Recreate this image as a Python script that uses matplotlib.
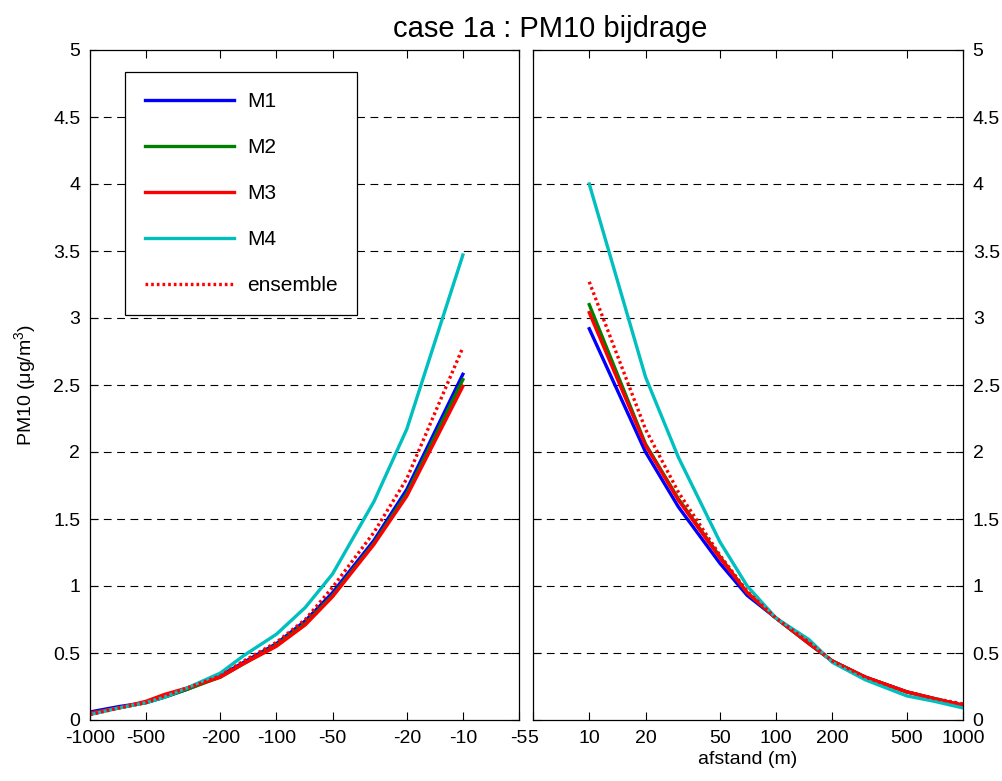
import matplotlib
matplotlib.use("Agg")
import matplotlib.pyplot as plt
from matplotlib.ticker import FixedLocator, NullLocator

plt.rcParams['font.family'] = ['Liberation Sans', 'DejaVu Sans']
plt.rcParams['mathtext.fontset'] = 'custom'
plt.rcParams['mathtext.rm'] = 'Liberation Sans'

# left side: upwind distances (m)
x_left = [-1000, -700, -500, -400, -300, -200, -150, -100, -70, -50, -30, -20, -10]
m1_left = [0.06, 0.10, 0.13, 0.17, 0.23, 0.33, 0.43, 0.57, 0.74, 0.95, 1.34, 1.72, 2.58]
m2_left = [0.05, 0.09, 0.13, 0.17, 0.23, 0.32, 0.42, 0.56, 0.72, 0.93, 1.32, 1.69, 2.54]
m3_left = [0.05, 0.09, 0.14, 0.19, 0.24, 0.32, 0.42, 0.55, 0.71, 0.92, 1.31, 1.67, 2.49]
m4_left = [0.04, 0.09, 0.13, 0.17, 0.24, 0.35, 0.48, 0.64, 0.84, 1.09, 1.63, 2.17, 3.47]
ens_left = [0.04, 0.09, 0.13, 0.18, 0.24, 0.33, 0.44, 0.58, 0.75, 0.99, 1.40, 1.80, 2.78]

# right side: downwind distances (m)
x_right = [10, 20, 30, 50, 70, 100, 150, 200, 300, 500, 700, 1000]
m1_right = [2.92, 2.00, 1.59, 1.17, 0.93, 0.76, 0.57, 0.44, 0.32, 0.21, 0.16, 0.11]
m2_right = [3.10, 2.06, 1.65, 1.22, 0.95, 0.76, 0.57, 0.44, 0.32, 0.21, 0.16, 0.11]
m3_right = [3.04, 2.05, 1.64, 1.21, 0.95, 0.76, 0.57, 0.44, 0.32, 0.21, 0.16, 0.11]
m4_right = [4.00, 2.56, 1.96, 1.33, 1.00, 0.76, 0.60, 0.43, 0.30, 0.18, 0.14, 0.09]
ens_right = [3.27, 2.17, 1.70, 1.23, 0.96, 0.76, 0.58, 0.44, 0.32, 0.21, 0.16, 0.12]

left_ticks = [-1000, -500, -200, -100, -50, -20, -10, -5]
right_ticks = [5, 10, 20, 50, 100, 200, 500, 1000]
y_ticks = [0, 0.5, 1, 1.5, 2, 2.5, 3, 3.5, 4, 4.5, 5]

labels = ['M1', 'M2', 'M3', 'M4', 'ensemble']
colors = ['#0000ff', '#008000', '#ff0000', '#00bfbf', '#ff0000']

W, H = 1003, 781
fig = plt.figure(figsize=(W / 100, H / 100), dpi=100)
ax1 = fig.add_axes([90 / W, 61 / H, 429 / W, 670 / H])
ax2 = fig.add_axes([533 / W, 61 / H, 430 / W, 670 / H])

left_series = [m1_left, m2_left, m3_left, m4_left, ens_left]
right_series = [m1_right, m2_right, m3_right, m4_right, ens_right]

for i in range(5):
    ls = (0, (0.8, 0.9)) if labels[i] == 'ensemble' else '-'
    ax1.plot(x_left, left_series[i], color=colors[i], lw=2.4, ls=ls, label=labels[i])
    ax2.plot(x_right, right_series[i], color=colors[i], lw=2.4, ls=ls)

ax1.set_xscale('symlog', linthresh=1)
ax1.set_xlim(-1000, -5)
ax1.xaxis.set_major_locator(FixedLocator(left_ticks))
ax1.set_xticklabels([str(t) for t in left_ticks])

ax2.set_xscale('log')
ax2.set_xlim(5, 1000)
ax2.xaxis.set_major_locator(FixedLocator(right_ticks))
ax2.set_xticklabels([str(t) for t in right_ticks])

for ax in (ax1, ax2):
    ax.xaxis.set_minor_locator(NullLocator())
    ax.set_ylim(0, 5)
    ax.set_yticks(y_ticks)
    ax.set_yticklabels(['%g' % v for v in y_ticks])
    ax.tick_params(direction='in', length=6, width=0.8, labelsize=14,
                   top=True, bottom=True, left=True, right=True, pad=7)
    for s in ax.spines.values():
        s.set_linewidth(0.9)
    for v in y_ticks[1:-1]:
        ax.axhline(v, color='k', lw=0.8, ls=(0, (7, 5)), zorder=0.5)

ax2.tick_params(labelleft=False, labelright=True)

ax1.set_ylabel('PM10 (μg/m$^3$)', fontsize=14, labelpad=10)
ax2.set_xlabel('afstand (m)', fontsize=14, labelpad=3)

fig.text(550 / W, 1 - 29 / H, 'case 1a : PM10 bijdrage', fontsize=21,
         ha='center', va='center')

leg = ax1.legend(loc='upper left', bbox_to_anchor=(125 / W, 1 - 72 / H),
                 bbox_transform=fig.transFigure, fontsize=15, frameon=True,
                 fancybox=False, edgecolor='k', framealpha=1,
                 handlelength=4.3, handletextpad=0.6, labelspacing=1.3,
                 borderpad=0.95, borderaxespad=0)
leg.get_frame().set_linewidth(0.9)

fig.savefig('out.png', dpi=100)
